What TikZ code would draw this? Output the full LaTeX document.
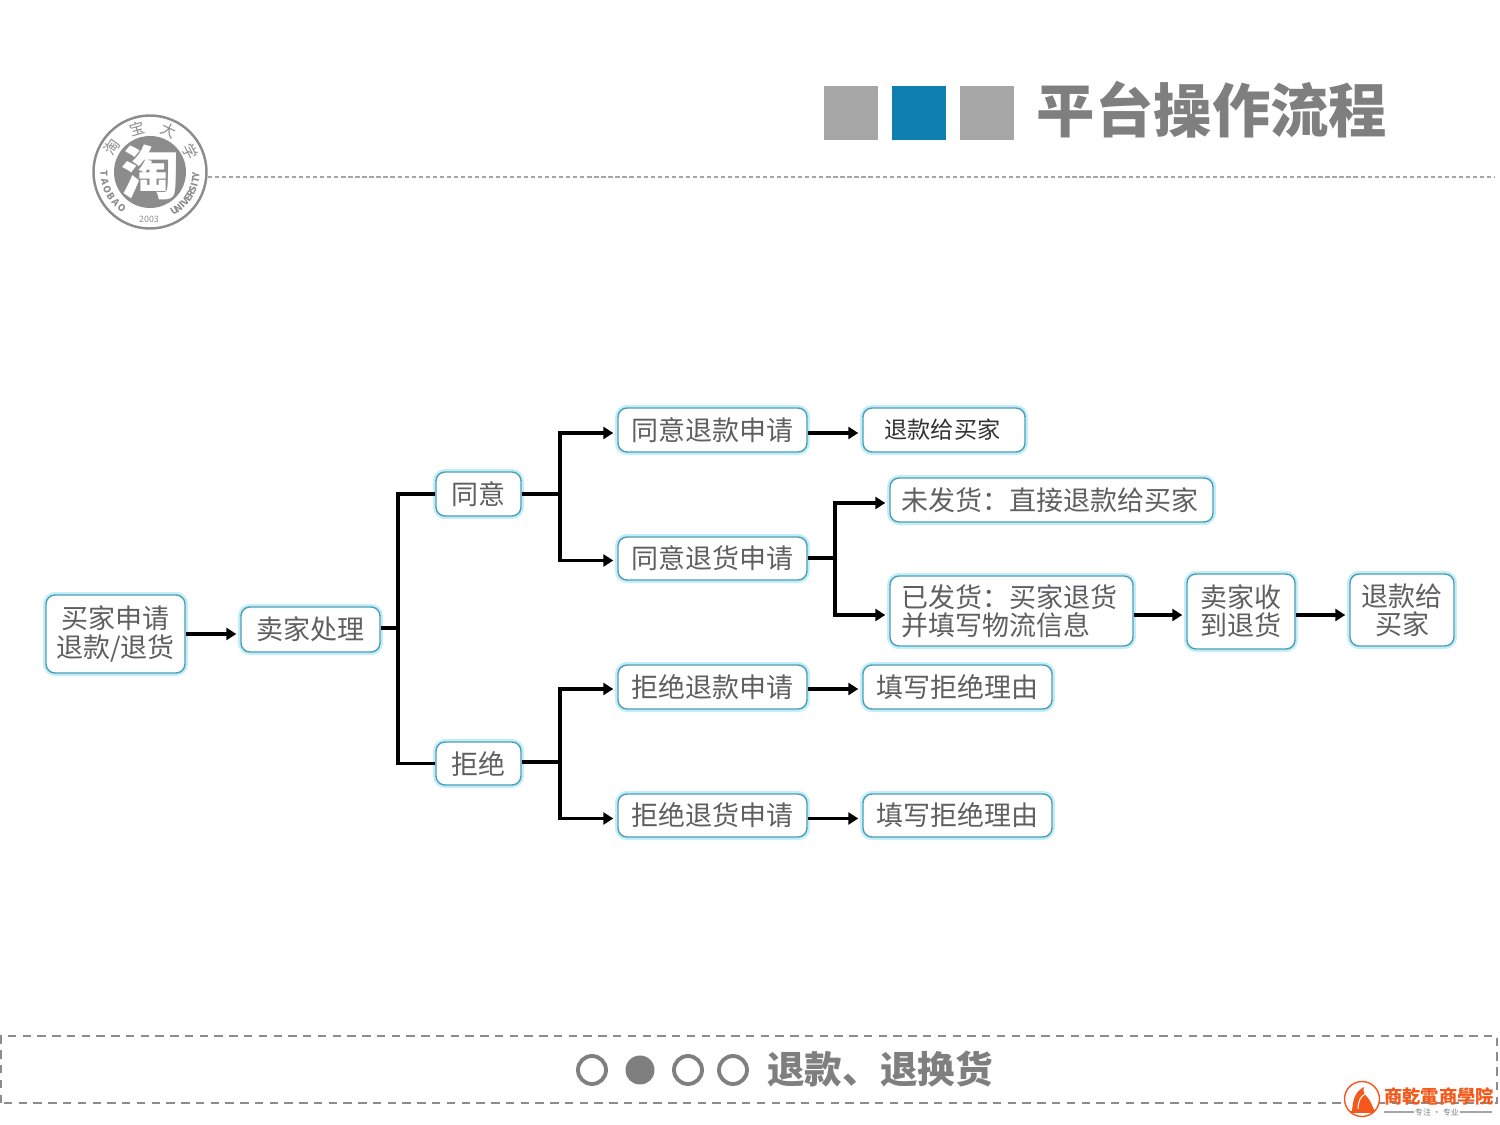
\documentclass[tikz,border=0pt]{standalone}
\usepackage{fontspec}
\setmainfont{Noto Sans CJK SC}
\usetikzlibrary{arrows.meta}
\definecolor{slidegray}{HTML}{7F7F7F}
\definecolor{squaregray}{HTML}{A6A6A6}
\definecolor{squareblue}{HTML}{0E7FAE}
\definecolor{boxedge}{HTML}{4C9DB8}
\definecolor{boxglow}{HTML}{C4EEF7}
\definecolor{boxtext}{HTML}{5F5F5F}
\definecolor{badge}{HTML}{8C8C8C}
\definecolor{brand}{HTML}{F4581A}
\tikzset{
  flowbox/.style={draw=boxedge, line width=.4pt, rounded corners=.09cm, fill=white, inner sep=0pt, align=center,
    text=boxtext, font=\fontsize{7.68}{8}\selectfont,
    preaction={draw=boxglow, line width=1.7pt}},
  link/.style={line width=1.05pt, black},
  flow/.style={link, -{Triangle[length=.1cm,width=.12cm]}, shorten >=.04cm},
  square/.style={minimum size=.54cm, inner sep=0pt},
  ringdot/.style={circle, draw=slidegray, line width=1.1pt, minimum size=.28cm, inner sep=0pt},
  ringchar/.style={text=badge, inner sep=0pt, font=\fontsize{4.3}{5}\selectfont},
  ringletter/.style={text=badge, inner sep=0pt, font=\bfseries\fontsize{2.7}{3}\selectfont},
}
\begin{document}
\begin{tikzpicture}
  \useasboundingbox (0,0) rectangle (15,11.25);
  % header
  \node[square, fill=squaregray] (sqa) at (8.51,10.12) {};
  \node[square, fill=squareblue] (sqb) at (9.19,10.12) {};
  \node[square, fill=squaregray] (sqc) at (9.87,10.12) {};
  \node[text=slidegray, inner sep=0pt, font=\bfseries\fontsize{16.6}{17}\selectfont] (title) at (12.12,10.15) {平台操作流程};
  % badge
  \node[circle, draw=badge, line width=.7pt, minimum size=1.13cm, inner sep=0pt] (ring) at (1.50,9.53) {};
  \node[circle, fill=badge, minimum size=.72cm, inner sep=0pt] (disc) at (1.50,9.53) {};
  \node[text=white, inner sep=0pt, font=\bfseries\fontsize{16.5}{17}\selectfont] (taoglyph) at (1.50,9.53) {淘};
  \foreach \ch/\ang in {淘/146,宝/106,大/65,学/27}
    \node[ringchar, rotate=\ang-90] (c\ang) at ([shift={(\ang:.455)}]ring.center) {\ch};
  \foreach \ch/\ang in {T/182,A/192,O/202,B/212,A/222,O/232}
    \node[ringletter, rotate=\ang+90] (l\ang) at ([shift={(\ang:.46)}]ring.center) {\ch};
  \foreach \ch/\ang in {U/302,N/308,I/314,V/320,E/326,R/332,S/338,I/344,T/350,Y/356}
    \node[ringletter, rotate=\ang+90] (l\ang) at ([shift={(\ang:.46)}]ring.center) {\ch};
  \node[text=badge, inner sep=0pt, font=\fontsize{2.5}{3}\selectfont] (year) at (1.49,9.06) {2003};
  \coordinate (ruleend) at (14.95,9.48);
  \draw[squaregray, line width=.3pt, dash pattern=on 1.2pt off .8pt] (ring.east |- ruleend) -- (ruleend);
  % flow
  \node[flowbox, minimum width=1.39cm, minimum height=.78cm] (buyer) at (1.155,4.91) {买家申请\\退款/退货};
  \node[flowbox, minimum width=1.39cm, minimum height=.45cm] (seller) at (3.105,4.955) {卖家处理};
  \node[flowbox, minimum width=.85cm, minimum height=.44cm] (agree) at (4.785,6.31) {同意};
  \node[flowbox, minimum width=.85cm, minimum height=.43cm] (refuse) at (4.785,3.615) {拒绝};
  \node[flowbox, minimum width=1.89cm, minimum height=.44cm] (agreerefund) at (7.125,6.95) {同意退款申请};
  \node[flowbox, minimum width=1.89cm, minimum height=.43cm] (agreereturn) at (7.125,5.665) {同意退货申请};
  \node[flowbox, minimum width=1.89cm, minimum height=.44cm] (refuserefund) at (7.125,4.38) {拒绝退款申请};
  \node[flowbox, minimum width=1.89cm, minimum height=.43cm] (refusereturn) at (7.125,3.095) {拒绝退货申请};
  \node[flowbox, minimum width=1.62cm, minimum height=.44cm, text=black!80, font=\fontsize{6.6}{7}\selectfont] (payfirst) at (9.44,6.95) {退款给买家\hspace{.03cm}};
  \node[flowbox, minimum width=3.23cm, minimum height=.44cm] (unsent) at (10.515,6.25) {未发货：直接退款给买家\hspace{.03cm}};
  \node[flowbox, minimum width=2.43cm, minimum height=.70cm, align=left] (sent) at (10.115,5.14) {已发货：买家退货\hspace*{.04cm}\\并填写物流信息};
  \node[flowbox, minimum width=1.08cm, minimum height=.75cm] (received) at (12.41,5.135) {卖家收\\到退货};
  \node[flowbox, minimum width=1.04cm, minimum height=.72cm] (paysecond) at (14.02,5.15) {退款给\\买家};
  \node[flowbox, minimum width=1.89cm, minimum height=.44cm] (reasonfirst) at (9.575,4.38) {填写拒绝理由};
  \node[flowbox, minimum width=1.89cm, minimum height=.43cm] (reasonsecond) at (9.575,3.095) {填写拒绝理由};
  \coordinate (forka) at (3.98,4.97);
  \coordinate (forkb) at (5.60,6.31);
  \coordinate (forkc) at (5.60,3.63);
  \coordinate (forkd) at (8.35,5.67);
  \coordinate (sentout) at (12.0,5.10);
  \draw[flow] (buyer.east) -- (seller.west |- buyer.east);
  \draw[link] (seller.east |- forka) -- (forka);
  \draw[link] (agree.west) -| (forka);
  \draw[link] (refuse.west) -| (forka);
  \draw[link] (agree.east) -- (forkb);
  \draw[link] (refuse.east |- forkc) -- (forkc);
  \draw[flow] (forkb) |- ([yshift=-.03cm]agreerefund.west);
  \draw[flow] (forkb) |- ([yshift=-.02cm]agreereturn.west);
  \draw[flow] (forkc) |- ([yshift=-.02cm]refuserefund.west);
  \draw[flow] (forkc) |- ([yshift=-.03cm]refusereturn.west);
  \draw[flow] ([yshift=-.03cm]agreerefund.east) -- ([yshift=-.03cm]payfirst.west);
  \draw[flow] ([yshift=-.02cm]refuserefund.east) -- ([yshift=-.02cm]reasonfirst.west);
  \draw[flow] ([yshift=-.03cm]refusereturn.east) -- ([yshift=-.03cm]reasonsecond.west);
  \draw[link] (agreereturn.east |- forkd) -- (forkd);
  \draw[flow] (forkd) |- ([yshift=-.03cm]unsent.west);
  \draw[flow] (forkd) |- (sent.west |- sentout);
  \draw[flow] (sent.east |- sentout) -- (received.west |- sentout);
  \draw[flow] (received.east |- sentout) -- (paysecond.west |- sentout);
  % footer
  \coordinate (barsw) at (.01,.22);
  \coordinate (barne) at (14.97,.89);
  \draw[badge, line width=.45pt, dash pattern=on 2.4pt off 1.8pt] (barsw) rectangle (barne);
  \node[ringdot] (doa) at (5.92,.55) {};
  \node[circle, fill=slidegray, minimum size=.29cm, inner sep=0pt] (dob) at (6.40,.55) {};
  \node[ringdot] (doc) at (6.88,.55) {};
  \node[ringdot] (dod) at (7.33,.55) {};
  \node[text=slidegray, inner sep=0pt, font=\bfseries\fontsize{10.7}{11}\selectfont] (topic) at (8.80,.56) {退款、退换货};
  % brand
  \node[circle, draw=brand, line width=.4pt, fill=white, minimum size=.35cm, inner sep=0pt] (mark) at (13.62,.26) {};
  \fill[brand] (13.52,.14) .. controls (13.53,.26) and (13.55,.33) .. (13.64,.38)
    .. controls (13.62,.34) and (13.65,.30) .. (13.68,.27)
    .. controls (13.71,.24) and (13.72,.18) .. (13.75,.14) -- cycle;
  \draw[white, line width=.3pt] (13.58,.16) .. controls (13.58,.24) and (13.61,.29) .. (13.65,.31);
  \draw[brand, line width=.5pt] (13.50,.13) -- (13.74,.13);
  \node[text=brand, inner sep=0pt, font=\bfseries\fontsize{5.2}{6}\selectfont] (brandname) at (14.39,.29) {商乾電商學院};
  \node[text=slidegray, inner sep=0pt, font=\fontsize{2.3}{3}\selectfont] (motto) at (14.37,.13) {专注 · 专业};
  \draw[squaregray, line width=.3pt] (13.84,.13) -- (motto.west);
  \draw[squaregray, line width=.3pt] (motto.east) -- (14.92,.13);
\end{tikzpicture}
\end{document}
